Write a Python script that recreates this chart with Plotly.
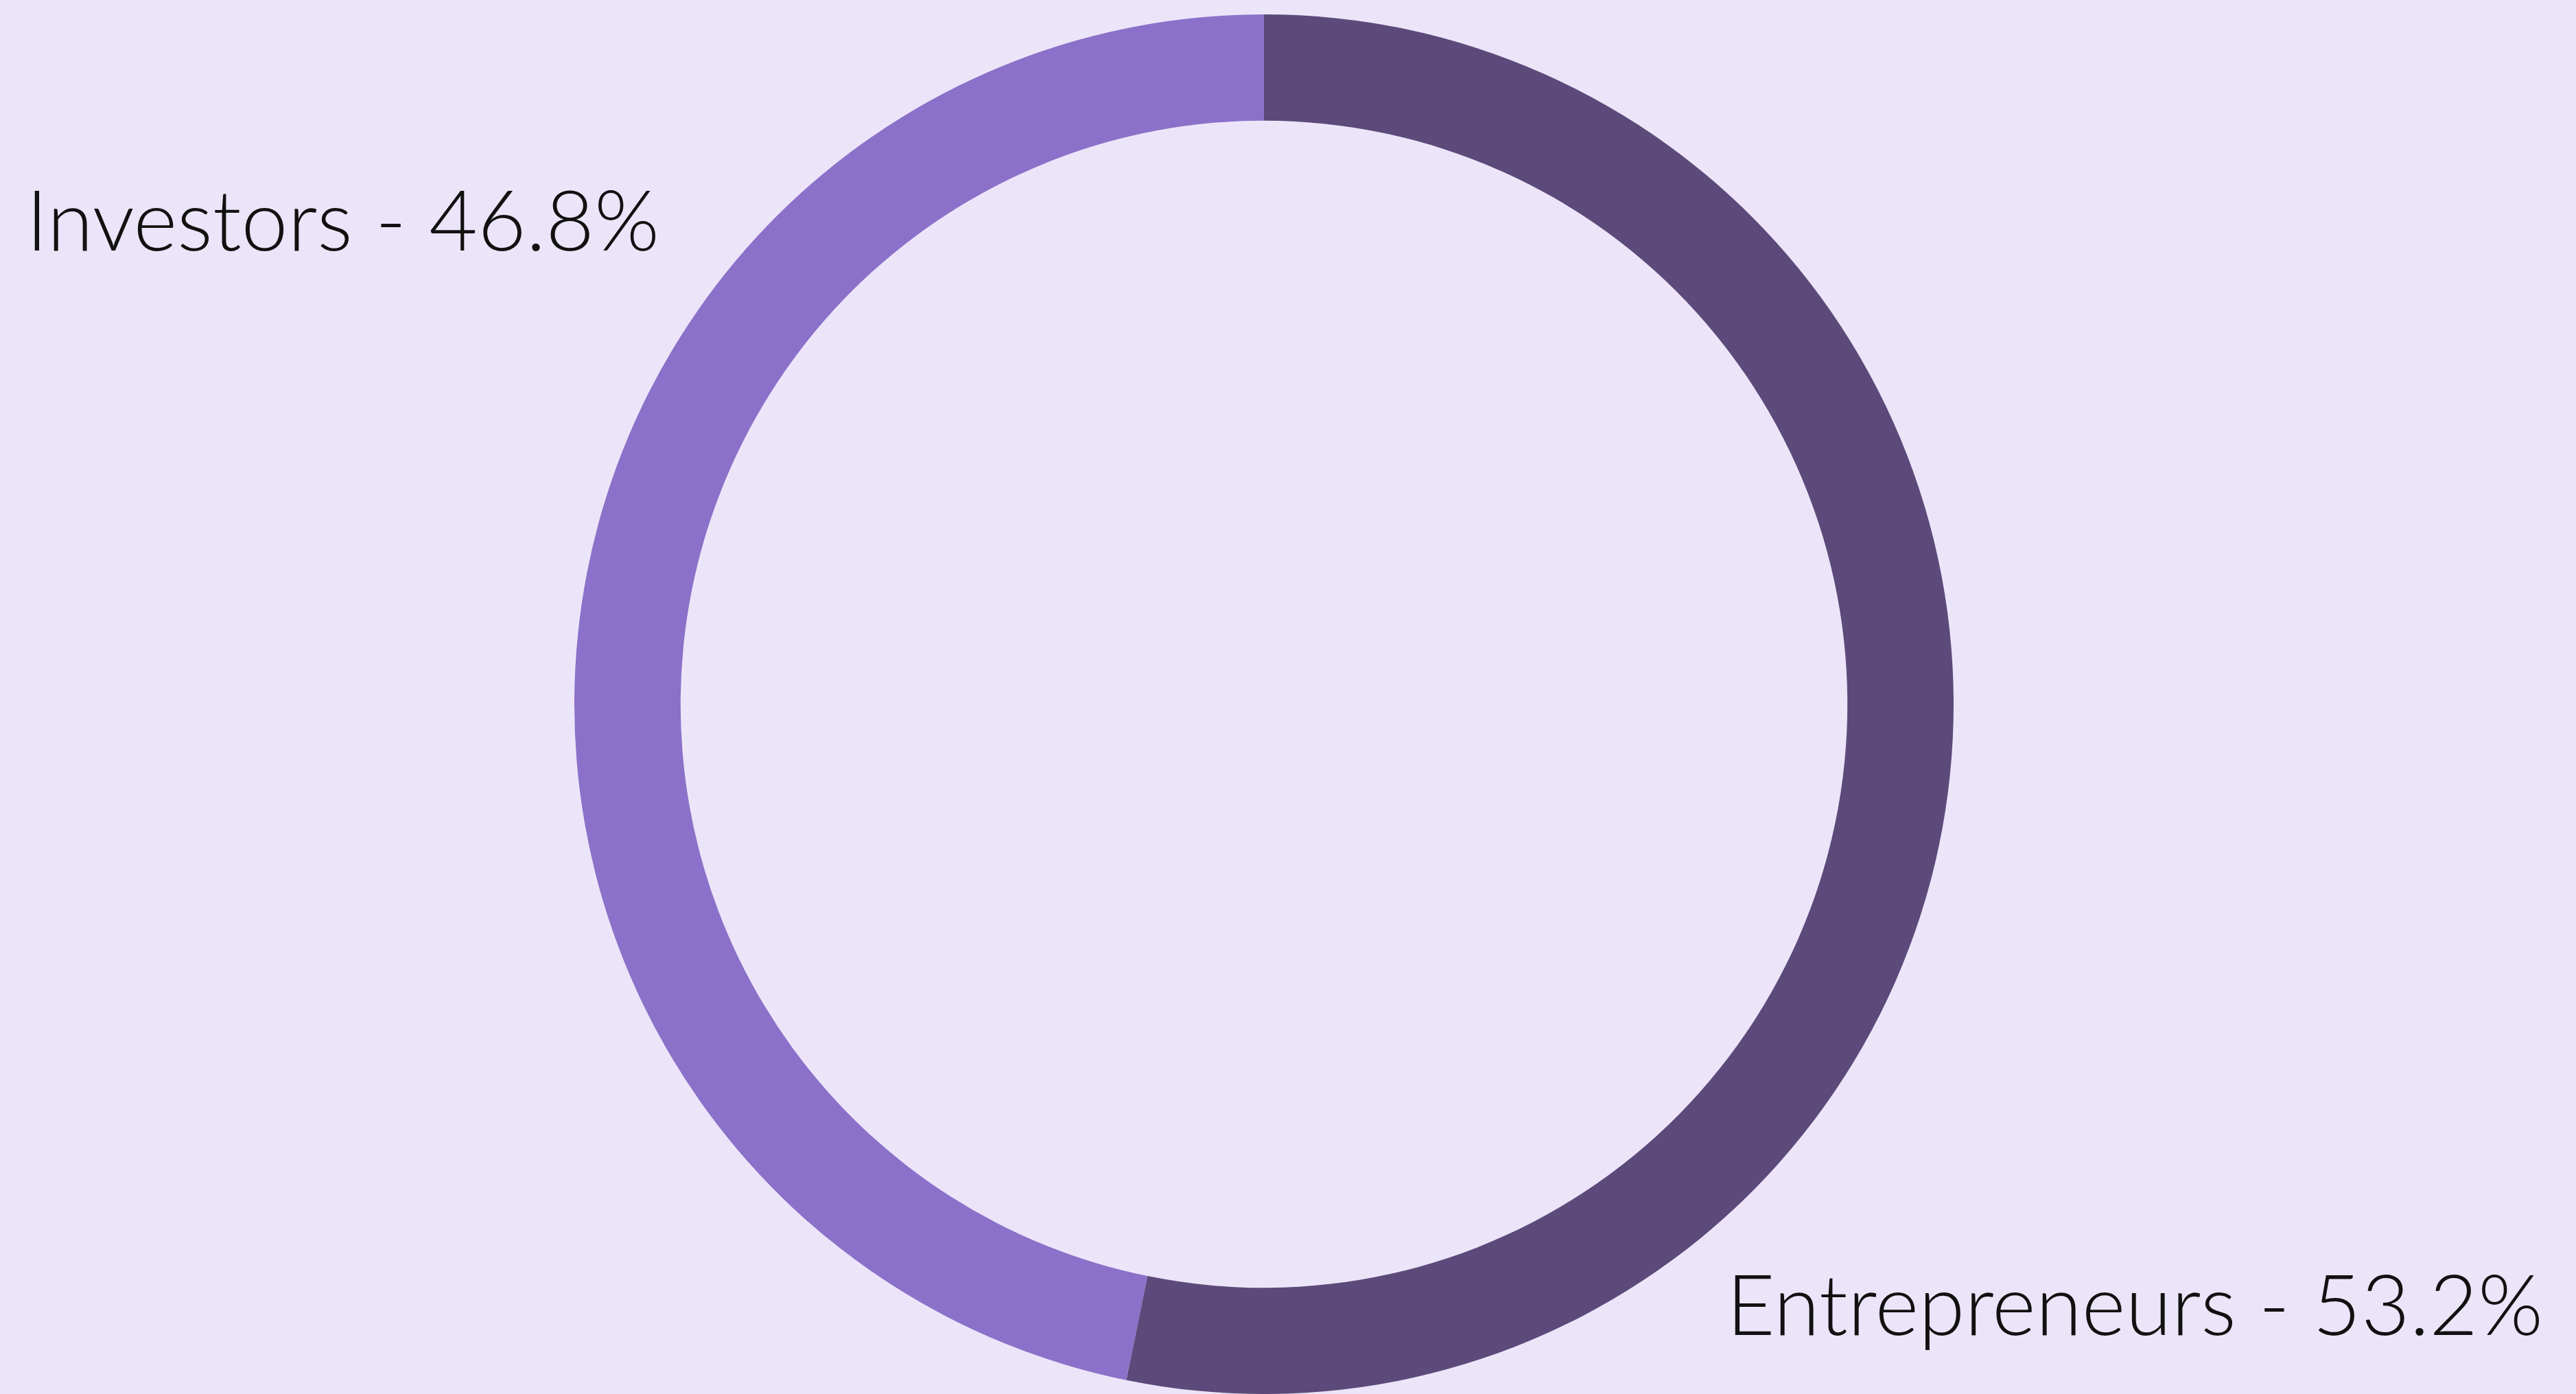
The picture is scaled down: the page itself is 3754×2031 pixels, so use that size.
import plotly.graph_objects as go

labels = ["Entrepreneurs", "Investors"]
values = [53.2, 46.8]
colors = ["#5C4A7A", "#8B71C9"]
bg = "#ECE5F9"

W, H = 3754, 2031
fig = go.Figure(go.Pie(
    labels=labels, values=values, hole=0.846, sort=False,
    direction="clockwise", rotation=0,
    marker=dict(colors=colors, line=dict(width=0)),
    textinfo="none", hoverinfo="label+percent",
    domain=dict(x=[0, 1842 * 2 / W], y=[0, 1]),
    showlegend=False,
))

total = sum(values)
label_pos = {"Investors": (36, 0.852), "Entrepreneurs": (2514, 0.066)}
for lab, val in zip(labels, values):
    px_x, py = label_pos[lab]
    fig.add_annotation(
        text=f"{lab} - {val / total * 100:.1f}%",
        x=px_x / W, y=py, xref="paper", yref="paper",
        xanchor="left", yanchor="middle", showarrow=False,
        font=dict(family="Lato", size=122, color="#111111", weight=300),
    )

fig.update_layout(
    width=W, height=H,
    margin=dict(l=0, r=0, t=21, b=0),
    paper_bgcolor=bg, plot_bgcolor=bg,
)
fig.write_html(
    "out.html",
    config={"displayModeBar": False},
    post_script="document.body.style.margin='0';document.body.style.background='" + bg + "';",
)
